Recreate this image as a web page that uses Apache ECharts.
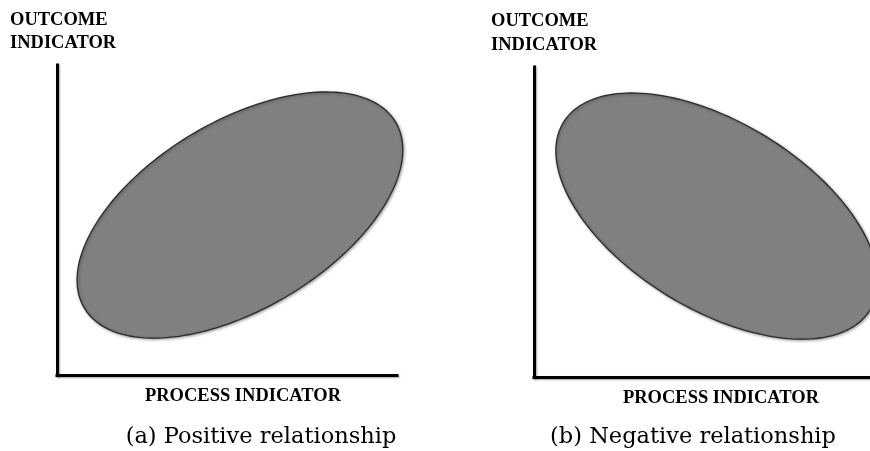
<!DOCTYPE html>
<head>
    <title>ECharts</title>
    <script src="https://cdn.jsdelivr.net/npm/echarts@6/dist/echarts.min.js"></script>
</head>
<body style="margin:0">
    <div id="main" style="width:870px;height:451px"></div>
    <script type="text/javascript">
        var captions = ['(a) Positive relationship', '(b) Negative relationship'];
        var yLabelLines = ['OUTCOME', 'INDICATOR'];
        var xLabel = 'PROCESS INDICATOR';
        // ellipse: centre, rightmost point, half of vertical chord through centre (axis units 0-100)
        var ellipseCenters = [[53.8, 51.6], [54.4, 51.9]];
        var ellipseRightPoints = [[101.7, 72.6], [102.3, 30.9]];
        var ellipseHalfHeights = [33.7, 33.7];

        var myChart = echarts.init(document.getElementById('main'));

        var axisLine = {
            lineStyle: {color: '#000', width: 3, cap: 'square',
                shadowColor: 'rgba(0,0,0,0.35)', shadowBlur: 2, shadowOffsetX: 1, shadowOffsetY: 1}
        };
        function axis(idx) {
            return {type: 'value', gridIndex: idx, min: 0, max: 100,
                axisLine: axisLine, axisTick: {show: false}, axisLabel: {show: false}, splitLine: {show: false}};
        }

        function renderEllipse(params, api) {
            var cx = api.value(0), cy = api.value(1);
            var ux = api.value(2) - cx, uy = api.value(3) - cy;
            var h = api.value(4);
            var pts = [];
            for (var i = 0; i < 180; i++) {
                var t = i / 180 * Math.PI * 2;
                pts.push(api.coord([cx + ux * Math.cos(t), cy + uy * Math.cos(t) + h * Math.sin(t)]));
            }
            return {
                type: 'polygon',
                shape: {points: pts},
                style: {fill: '#808080', stroke: '#2a2a2a', lineWidth: 1.3,
                    shadowColor: 'rgba(0,0,0,0.35)', shadowBlur: 3, shadowOffsetX: 1, shadowOffsetY: 1}
            };
        }

        var series = [];
        for (var k = 0; k < 2; k++) {
            series.push({
                type: 'custom',
                xAxisIndex: k, yAxisIndex: k,
                renderItem: renderEllipse,
                silent: true,
                data: [[ellipseCenters[k][0], ellipseCenters[k][1],
                        ellipseRightPoints[k][0], ellipseRightPoints[k][1], ellipseHalfHeights[k]]]
            });
        }

        var boldFont = 'bold 18.5px "Liberation Serif"';
        var capFont = '22.5px "DejaVu Serif"';
        function txt(s, x, y, font, align) {
            return {type: 'text', style: {text: s, x: x, y: y, font: font, fill: '#000',
                align: align, verticalAlign: 'middle'}};
        }

        var option = {
            animation: false,
            backgroundColor: '#fff',
            grid: [
                {left: 57, top: 65, width: 340, height: 310},
                {left: 534, top: 67, width: 340, height: 310}
            ],
            xAxis: [axis(0), axis(1)],
            yAxis: [axis(0), axis(1)],
            series: series,
            graphic: [
                txt(yLabelLines[0], 10, 20, boldFont, 'left'),
                txt(yLabelLines[1], 10, 43.5, boldFont, 'left'),
                txt(yLabelLines[0], 491, 21.5, boldFont, 'left'),
                txt(yLabelLines[1], 491, 45, boldFont, 'left'),
                txt(xLabel, 243, 396.5, boldFont, 'center'),
                txt(xLabel, 721, 398.5, boldFont, 'center'),
                txt(captions[0], 261, 437, capFont, 'center'),
                txt(captions[1], 693, 437, capFont, 'center')
            ]
        };

        myChart.setOption(option);
    </script>
</body>
